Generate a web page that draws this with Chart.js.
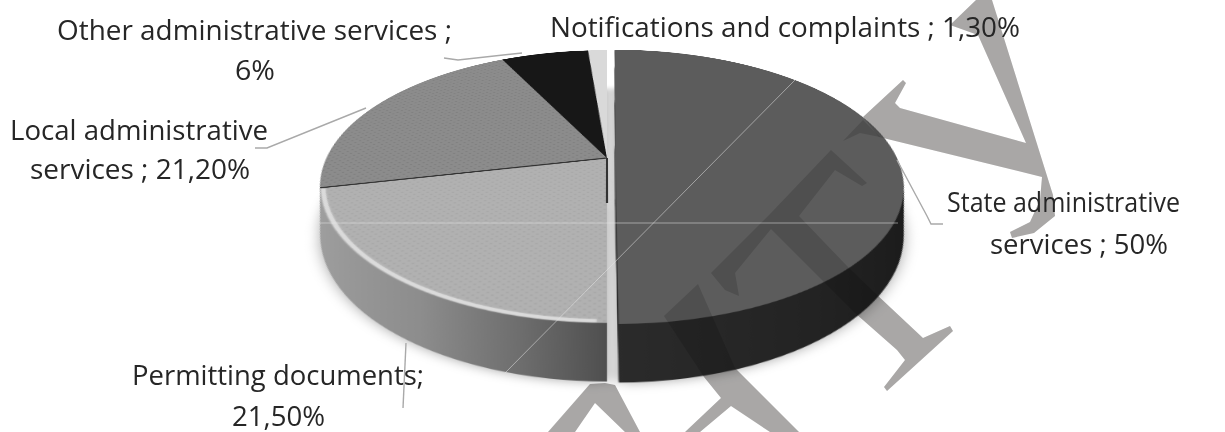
<!DOCTYPE html>
<html><head><meta charset="utf-8">
<style>
html,body{margin:0;padding:0;background:#fff;width:1225px;height:432px;overflow:hidden}
#stage{position:relative;width:1225px;height:432px;overflow:hidden}
#back,#front{position:absolute;left:0;top:0}
#back{z-index:1}#front{z-index:3}
#wrap{position:absolute;left:207px;top:-242px;width:800px;height:800px;z-index:2;
 transform-origin:50% 50%;transform:perspective(1188px) rotateX(62.3deg)}
text{font-family:"Open Sans",sans-serif;fill:#262626;filter:blur(.35px)}
</style></head><body>
<div id="stage">
<svg id="back" width="1225" height="432"><defs><g id="wm"></g></defs><use href="#wm" fill="#c5c3c2"/></svg>
<div id="wrap"><canvas id="c" width="800" height="800"></canvas></div>
<svg id="front" width="1225" height="432"></svg>
</div>
<script src="https://cdn.jsdelivr.net/npm/chart.js@4"></script>
<script>
const categories=["State administrative services","Permitting documents","Local administrative services","Other administrative services","Notifications and complaints"];
const shares=[50,21.5,21.2,6,1.3];
const topColors=["#5c5c5c","#b1b1b1","#8c8c8c","#171717","#d9d9d9"];
const offsets=[32,0,0,0,0];
const labelLines=[
 ["State administrative","services ; 50%"],
 ["Permitting documents;","21,50%"],
 ["Local administrative","services ; 21,20%"],
 ["Other administrative services ;","6%"],
 ["Notifications and complaints ; 1,30%"]];
const labelBoxes=[
 [[947,212,233],[990,254,178]],
 [[132,385,292],[232,426,93]],
 [[10,140,258],[30,179,220]],
 [[57,40,395],[235,80,40]],
 [[550,37,470]]];
const leaders=["897,160 927,216 931,224 943,224","406,343 403,408","255,148 267,148 366,108","444,58 458,60 522,53",""];
const watermark=[
 "976,0 992,0 1053,195 1055,216 1034,233 1012,238 1010,232 1030,222 1040,200 1042,177 879,137 863,117 903,80 906,83 895,103 900,108 1026,143 978,35 950,25",
 "831,150 867,183 862,186 835,170 799,216 847,266 875,293 923,338 950,326 953,331 887,391 884,387 905,360 897,350 855,313 771,229 735,273 739,296 725,290 711,273 771,213",
 "664,316 698,284 735,368 799,432 770,432 731,406 700,432 685,432 721,398 704,377",
 "605,383 590,384 548,432 575,432 595,403 625,432 640,432 615,385",
 "843,141 863,120 880,137 860,133"];
const hairlines=["320,223 898,223","795,80 505,373"];
const NS="http://www.w3.org/2000/svg";
function el(p,n,a){const e=document.createElementNS(NS,n);for(const k in a)e.setAttribute(k,a[k]);p.appendChild(e);return e;}
const wm=document.getElementById('wm'),front=document.getElementById('front');
watermark.forEach(p=>el(wm,'polygon',{points:p}));
el(front,'use',{href:'#wm',fill:'#000','fill-opacity':'.14'});
hairlines.forEach(p=>el(front,'polyline',{points:p,fill:'none',stroke:'#e8e8e8','stroke-opacity':'.65','stroke-width':'.8'}));
leaders.forEach(p=>{if(p)el(front,'polyline',{points:p,fill:'none',stroke:'#a9a9a9','stroke-width':'1.4'})});
labelLines.forEach((ls,i)=>ls.forEach((t,j)=>{const b=labelBoxes[i][j];
 const e=el(front,'text',{x:b[0],y:b[1],textLength:b[2],lengthAdjust:'spacingAndGlyphs','font-size':'26.5'});e.textContent=t;}));

function dotted(base,dot){const t=document.createElement('canvas');t.width=t.height=8;const x=t.getContext('2d');
 x.fillStyle=base;x.fillRect(0,0,8,8);x.fillStyle=dot;x.fillRect(1,1,2,2);x.fillRect(5,5,2,2);
 return x.createPattern(t,'repeat');}
const fills=[topColors[0],dotted(topColors[1],'#a8a8a8'),dotted(topColors[2],'#7f7f7f'),topColors[3],topColors[4]];

const depth=93,shrink=.93,steps=46,stateRadius=274;
const pie3d={id:'pie3d',
 afterDatasetsUpdate(chart){chart.getDatasetMeta(0).data[0].outerRadius=stateRadius;},
 beforeDatasetsDraw(chart){
  const ctx=chart.ctx,arcs=chart.getDatasetMeta(0).data,cx=arcs[0].x,cy=arcs[0].y;
  const g0=ctx.createLinearGradient(cx,0,cx+280,0);g0.addColorStop(0,'#2b2b2b');g0.addColorStop(.6,'#232323');g0.addColorStop(1,'#1b1b1b');
  const g1=ctx.createLinearGradient(cx-280,0,cx,0);g1.addColorStop(0,'#a0a0a0');g1.addColorStop(.45,'#8d8d8d');g1.addColorStop(.75,'#6e6e6e');g1.addColorStop(1,'#4f4f4f');
  const sides=[g0,g1,'#7c7c7c','#101010','#bdbdbd'];
  for(let s=steps;s>=1;s--){
   const t=s/steps;ctx.save();
   ctx.translate(cx,cy+depth*t);ctx.scale(1-(1-shrink)*t,1-(1-shrink)*t);ctx.translate(-cx,-cy);
   if(s===steps){ctx.shadowColor='rgba(0,0,0,.35)';ctx.shadowBlur=26;}
   arcs.forEach((a,i)=>{const o=Object.create(a.options,{backgroundColor:{value:sides[i]},borderWidth:{value:0}});
    const d=Object.create(a);d.options=o;d.draw(ctx);});
   ctx.restore();
  }
 },
 afterDatasetsDraw(chart){
  const ctx=chart.ctx,arcs=chart.getDatasetMeta(0).data,p=arcs[1],l=arcs[2];
  ctx.save();
  ctx.beginPath();ctx.arc(p.x,p.y,p.outerRadius-3,p.startAngle+.03,p.endAngle-.01);
  ctx.strokeStyle='rgba(222,222,222,.8)';ctx.lineWidth=4;ctx.shadowColor='rgba(225,225,225,.8)';ctx.shadowBlur=5;ctx.stroke();
  ctx.restore();ctx.save();
  ctx.beginPath();ctx.moveTo(l.x,l.y);ctx.lineTo(l.x+l.outerRadius*Math.cos(l.startAngle),l.y+l.outerRadius*Math.sin(l.startAngle));
  ctx.strokeStyle='#333';ctx.lineWidth=2.5;ctx.stroke();
  ctx.beginPath();ctx.moveTo(p.x,p.y);ctx.lineTo(p.x,p.y+90);ctx.strokeStyle='#333';ctx.lineWidth=2;ctx.stroke();
  ctx.restore();
 }};
new Chart(document.getElementById('c'),{
 type:'pie',
 data:{labels:categories,datasets:[{data:shares,backgroundColor:fills,offset:offsets,borderWidth:0}]},
 options:{responsive:false,animation:false,devicePixelRatio:2,radius:280.6,events:[],layout:{padding:0},
  plugins:{legend:{display:false},tooltip:{enabled:false}}},
 plugins:[pie3d]});
</script></body></html>
